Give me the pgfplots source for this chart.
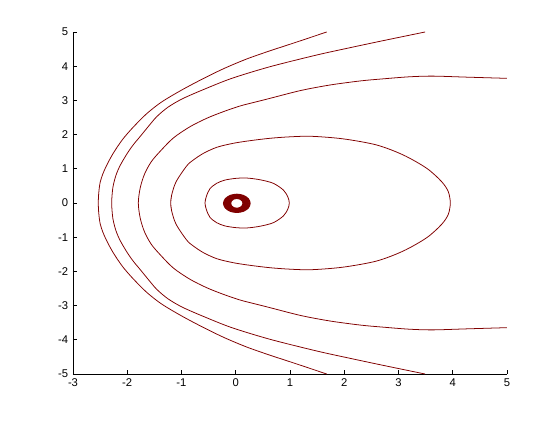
\documentclass[border=0pt]{standalone}
\usepackage{pgfplots}
\pgfplotsset{compat=1.18}
\usepackage{fontspec}
\setmainfont{Liberation Sans}
\definecolor{mred}{rgb}{0.5,0,0}
\pgfplotsset{orb/.style={mred, line width=0.55pt, smooth, mark=none}}
\begin{document}
\begin{tikzpicture}
\path (-1.825cm,-1.15cm) rectangle (12.175cm,9.35cm);
\begin{axis}[
  at={(0,0)}, anchor=south west,
  scale only axis, width=10.85cm, height=8.55cm,
  xmin=-3, xmax=5, ymin=-5, ymax=5,
  xtick={-3,...,5}, ytick={-5,...,5},
  axis lines=left, axis line style={-, line width=0.7pt},
  tick style={black, line width=0.7pt}, major tick length=0.11cm,
  tick align=inside,
  /pgf/number format/assume math mode=true,
  tick label style={font=\fontsize{8}{9.6}\selectfont},
  ]
  % outer open curve
  \addplot[orb] coordinates {(1.676,-5) (1.30,-4.80) (0.92,-4.60) (0.63,-4.45) (0.20,-4.21) (-0.22,-3.93) (-0.62,-3.62) (-1.00,-3.30) (-1.37,-2.95) (-1.65,-2.6) (-1.90,-2.2) (-2.09,-1.85) (-2.26,-1.45) (-2.38,-1.1) (-2.45,-0.85) (-2.50,-0.6) (-2.525,-0.3) (-2.534,0) (-2.525,0.3) (-2.50,0.6) (-2.45,0.85) (-2.38,1.1) (-2.26,1.45) (-2.09,1.85) (-1.90,2.2) (-1.65,2.6) (-1.37,2.95) (-1.00,3.30) (-0.62,3.62) (-0.22,3.93) (0.20,4.21) (0.63,4.45) (0.92,4.60) (1.30,4.80) (1.676,5)};
  % second open curve
  \addplot[orb] coordinates {(3.49,-5) (2.714,-4.746) (2.106,-4.541) (1.492,-4.327) (0.631,-3.985) (-0.07,-3.646) (-0.56,-3.34) (-0.98,-3.05) (-1.25,-2.8) (-1.457,-2.523) (-1.61,-2.24) (-1.765,-1.939) (-1.89,-1.70) (-2.0,-1.45) (-2.13,-1.1) (-2.21,-0.8) (-2.265,-0.45) (-2.287,0) (-2.265,0.45) (-2.21,0.8) (-2.13,1.1) (-2.0,1.45) (-1.89,1.70) (-1.765,1.939) (-1.61,2.24) (-1.457,2.523) (-1.25,2.8) (-0.98,3.05) (-0.56,3.34) (-0.07,3.646) (0.631,3.985) (1.492,4.327) (2.106,4.541) (2.714,4.746) (3.49,5)};
  % third curve, leaves at x=5
  \addplot[orb] coordinates {(5,-3.645) (4.257,-3.68) (3.636,-3.71) (3.2,-3.69) (2.714,-3.63) (2.3,-3.57) (1.737,-3.45) (1.2,-3.29) (0.631,-3.06) (0.386,-2.962) (0.078,-2.836) (-0.229,-2.67) (-0.535,-2.477) (-0.843,-2.231) (-1.151,-1.9) (-1.40,-1.5) (-1.56,-1.2) (-1.68,-0.85) (-1.76,-0.45) (-1.796,0) (-1.76,0.45) (-1.68,0.85) (-1.56,1.2) (-1.40,1.5) (-1.151,1.9) (-0.843,2.231) (-0.535,2.477) (-0.229,2.67) (0.078,2.836) (0.386,2.962) (0.631,3.06) (1.2,3.29) (1.737,3.45) (2.3,3.57) (2.714,3.63) (3.2,3.69) (3.636,3.71) (4.257,3.68) (5,3.645)};
  % big closed orbit
  \addplot[orb] coordinates {(-1.181,-0.234) (-1.199,0) (-1.181,0.234) (-1.10,0.62) (-0.904,1.085) (-0.782,1.257) (-0.598,1.45) (-0.351,1.628) (-0.045,1.746) (0.263,1.822) (0.631,1.892) (1.0,1.935) (1.4,1.95) (1.983,1.875) (2.598,1.696) (3.088,1.404) (3.52,1.015) (3.796,0.623) (3.918,0.33) (3.955,0) (3.918,-0.33) (3.796,-0.623) (3.52,-1.015) (3.088,-1.404) (2.598,-1.696) (1.983,-1.875) (1.4,-1.95) (1.0,-1.935) (0.631,-1.892) (0.263,-1.822) (-0.045,-1.746) (-0.351,-1.628) (-0.598,-1.45) (-0.782,-1.257) (-0.904,-1.085) (-1.10,-0.62) (-1.181,-0.234) (-1.199,0) (-1.181,0.234)};
  % small closed orbit
  \addplot[orb] coordinates {(-0.54,-0.2) (-0.567,0) (-0.54,0.2) (-0.475,0.42) (-0.351,0.576) (-0.2,0.67) (0.0,0.72) (0.2,0.73) (0.447,0.68) (0.692,0.576) (0.877,0.38) (0.96,0.18) (0.987,0) (0.96,-0.18) (0.877,-0.38) (0.692,-0.576) (0.447,-0.68) (0.2,-0.73) (0.0,-0.72) (-0.2,-0.67) (-0.351,-0.576) (-0.475,-0.42) (-0.54,-0.2) (-0.567,0) (-0.54,0.2)};
  % dense loops near the centre
  \addplot[orb, line width=1.8pt] coordinates {(0.131,-0.094) (0.148,-0.01) (0.131,0.074) (0.084,0.135) (0.02,0.157) (-0.044,0.135) (-0.091,0.074) (-0.108,-0.01) (-0.091,-0.094) (-0.044,-0.155) (0.02,-0.177) (0.084,-0.155) (0.131,-0.094) (0.148,-0.01) (0.131,0.074)};
  \addplot[orb, line width=1.8pt] coordinates {(0.163,-0.108) (0.185,-0.01) (0.163,0.088) (0.103,0.159) (0.02,0.185) (-0.063,0.159) (-0.123,0.088) (-0.145,-0.01) (-0.123,-0.108) (-0.063,-0.179) (0.02,-0.205) (0.103,-0.179) (0.163,-0.108) (0.185,-0.01) (0.163,0.088)};
  \addplot[orb, line width=1.8pt] coordinates {(0.193,-0.122) (0.22,-0.01) (0.193,0.102) (0.12,0.184) (0.02,0.214) (-0.08,0.184) (-0.153,0.102) (-0.18,-0.01) (-0.153,-0.122) (-0.08,-0.204) (0.02,-0.234) (0.12,-0.204) (0.193,-0.122) (0.22,-0.01) (0.193,0.102)};
  \addplot[orb, line width=1.4pt] coordinates {(0.225,-0.137) (0.257,-0.01) (0.225,0.117) (0.139,0.209) (0.02,0.243) (-0.099,0.209) (-0.185,0.117) (-0.217,-0.01) (-0.185,-0.137) (-0.099,-0.229) (0.02,-0.263) (0.139,-0.229) (0.225,-0.137) (0.257,-0.01) (0.225,0.117)};
\end{axis}
\end{tikzpicture}
\end{document}
